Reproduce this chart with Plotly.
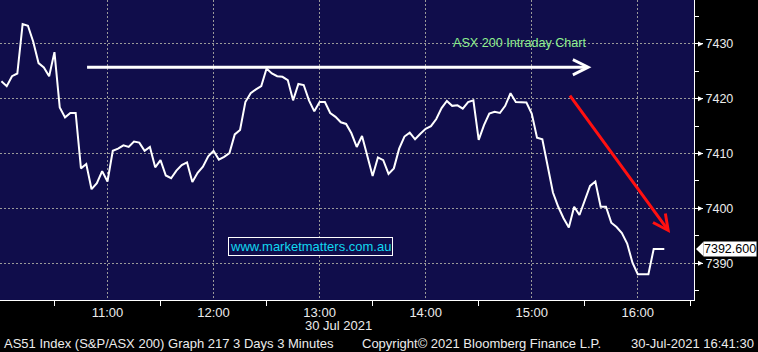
import plotly.graph_objects as go

DATE = "2021-07-30"

times = [
    "10:00", "10:03", "10:06", "10:09", "10:12", "10:15", "10:18", "10:21", "10:24", "10:27",
    "10:30", "10:33", "10:36", "10:39", "10:42", "10:45", "10:48", "10:51", "10:54", "10:57",
    "11:00", "11:03", "11:06", "11:09", "11:12", "11:15", "11:18", "11:21", "11:24", "11:27",
    "11:30", "11:33", "11:36", "11:39", "11:42", "11:45", "11:48", "11:51", "11:54", "11:57",
    "12:00", "12:03", "12:06", "12:09", "12:12", "12:15", "12:18", "12:21", "12:24", "12:27",
    "12:30", "12:33", "12:36", "12:39", "12:42", "12:45", "12:48", "12:51", "12:54", "12:57",
    "13:00", "13:03", "13:06", "13:09", "13:12", "13:15", "13:18", "13:21", "13:24", "13:27",
    "13:30", "13:33", "13:36", "13:39", "13:42", "13:45", "13:48", "13:51", "13:54", "13:57",
    "14:00", "14:03", "14:06", "14:09", "14:12", "14:15", "14:18", "14:21", "14:24", "14:27",
    "14:30", "14:33", "14:36", "14:39", "14:42", "14:45", "14:48", "14:51", "14:54", "14:57",
    "15:00", "15:03", "15:06", "15:09", "15:12", "15:15", "15:18", "15:21", "15:24", "15:27",
    "15:30", "15:33", "15:36", "15:39", "15:42", "15:45", "15:48", "15:51", "15:54", "15:57",
    "16:00", "16:03", "16:06", "16:09", "16:12", "16:15",
]

values = [
    7423.2, 7422.3, 7424.1, 7424.6, 7433.6, 7433.3, 7430.4, 7426.5, 7425.7, 7424.1,
    7428.5, 7418.4, 7416.6, 7417.4, 7417.4, 7407.3, 7408.1, 7403.5, 7404.6, 7406.8,
    7404.9, 7410.5, 7410.9, 7411.5, 7411.2, 7412.2, 7412.0, 7410.5, 7411.2, 7407.5,
    7408.8, 7406.0, 7405.5, 7406.9, 7407.9, 7408.4, 7404.8, 7406.5, 7407.6, 7409.5,
    7410.5, 7408.9, 7409.4, 7410.1, 7413.5, 7414.3, 7419.4, 7421.0, 7421.7, 7422.3,
    7425.5, 7424.6, 7424.1, 7424.0, 7423.4, 7419.7, 7422.7, 7422.5, 7419.7, 7417.7,
    7419.4, 7419.4, 7417.4, 7416.7, 7415.7, 7415.4, 7413.7, 7411.2, 7413.2, 7409.3,
    7405.9, 7409.3, 7408.8, 7406.3, 7407.3, 7410.9, 7413.1, 7413.8, 7412.6, 7413.6,
    7414.5, 7415.0, 7416.3, 7418.3, 7419.6, 7418.7, 7418.8, 7418.2, 7419.4, 7419.7,
    7412.5, 7415.2, 7417.3, 7417.6, 7417.4, 7418.7, 7421.0, 7419.4, 7419.4, 7419.3,
    7417.3, 7412.9, 7412.6, 7407.6, 7402.9, 7400.3, 7398.2, 7396.5, 7400.3, 7398.8,
    7401.5, 7404.1, 7404.9, 7400.3, 7400.3, 7397.4, 7396.6, 7395.5, 7393.6, 7390.1,
    7388.0, 7388.0, 7388.0, 7392.6, 7392.6, 7392.6,
]

ytick_vals = [7390, 7400, 7410, 7420, 7430]
xtick_times = ["11:00", "12:00", "13:00", "14:00", "15:00", "16:00"]
last_price = 7392.6
last_label = "7392.600"

# trend arrows (time, value)
white_arrow_start = ("10:47:36", 7425.75)
white_arrow_end = ("15:33:48", 7425.75)
red_arrow_start = ("15:21:00", 7420.85)
red_arrow_end = ("16:18:18", 7395.5)

x_range = [f"{DATE} 09:59:12", f"{DATE} 16:31:48"]
y_range = [7383.3, 7438.0]

PLOT_BG = "#100d4b"
GRID = "#9a9a9a"
TXT = "#ececec"
FONT = "Liberation Sans, Arial, sans-serif"

x = [f"{DATE} {t}" for t in times]

fig = go.Figure()
fig.add_trace(go.Scatter(
    x=x, y=values, mode="lines",
    line=dict(color="white", width=2),
    hoverinfo="skip", showlegend=False,
))

fig.update_layout(
    width=758, height=352,
    margin=dict(l=0, r=64, t=0, b=52),
    paper_bgcolor="black",
    plot_bgcolor=PLOT_BG,
    font=dict(family=FONT, color=TXT, size=13),
    showlegend=False,
)

fig.update_xaxes(
    type="date",
    range=x_range,
    tickmode="array",
    tickvals=[f"{DATE} {t}" for t in xtick_times],
    ticktext=xtick_times,
    ticks="",
    tickfont=dict(size=13, color=TXT),
    showgrid=True, gridcolor=GRID, gridwidth=1.3, griddash="2px,2px",
    showline=True, linecolor="white", linewidth=1,
    zeroline=False,
    minor=dict(tickmode="linear", tick0=f"{DATE} 10:30", dtick=3600000,
               ticks="outside", ticklen=5, tickcolor="white", tickwidth=1,
               showgrid=False),
    fixedrange=True,
)

fig.update_yaxes(
    side="right",
    range=y_range,
    tickmode="array",
    tickvals=ytick_vals,
    ticktext=[str(v) for v in ytick_vals],
    ticks="outside", ticklen=8, tickcolor="white", tickwidth=1,
    tickfont=dict(size=12.5, color=TXT),
    showgrid=True, gridcolor=GRID, gridwidth=1.3, griddash="2px,2px",
    showline=True, linecolor="white", linewidth=1,
    zeroline=False,
    minor=dict(tickmode="linear", tick0=7385, dtick=10,
               ticks="outside", ticklen=4, tickcolor="white", tickwidth=1,
               showgrid=False),
    fixedrange=True,
)

PLOT_W = 694.0
PLOT_H = 300.0
px_per_unit = PLOT_H / (y_range[1] - y_range[0])

# tick arrowheads on the right axis
shapes = []
for v in ytick_vals:
    x0 = 1 + 4 / PLOT_W
    x1 = 1 + 9 / PLOT_W
    dy = 2.5 / px_per_unit
    shapes.append(dict(
        type="path", xref="paper", yref="y",
        path=f"M {x0},{v - dy} L {x1},{v} L {x0},{v + dy} Z",
        fillcolor="white", line=dict(width=0),
    ))

# pointer of the last price label
dy = 7.3 / px_per_unit
shapes.append(dict(
    type="path", xref="paper", yref="y",
    path=(f"M {1 + 2 / PLOT_W},{last_price} L {1 + 9.5 / PLOT_W},{last_price + dy} "
          f"L {1 + 9.5 / PLOT_W},{last_price - dy} Z"),
    fillcolor="white", line=dict(width=0),
))
fig.update_layout(shapes=shapes)

annotations = [
    # last price label
    dict(xref="paper", yref="y", x=1, y=last_price, xanchor="left", yanchor="middle",
         xshift=9, text=last_label, showarrow=False, bgcolor="white",
         font=dict(color="black", size=12.5, family=FONT), borderpad=0),
    # chart title
    dict(xref="paper", yref="paper", x=520 / PLOT_W, y=(PLOT_H - 43) / PLOT_H,
         xanchor="center", yanchor="middle", text="ASX 200 Intraday Chart",
         showarrow=False, font=dict(color="#8ef08e", size=12.6, family=FONT)),
    # watermark
    dict(xref="x", yref="y", x=f"{DATE} 12:55", y=7393.0, xanchor="center", yanchor="middle",
         text="www.marketmatters.com.au", showarrow=False,
         font=dict(color="#10d8f0", size=13, family=FONT),
         bordercolor="white", borderwidth=1, borderpad=1, bgcolor=PLOT_BG),
    # date under axis
    dict(xref="paper", yref="paper", x=303 / PLOT_W, y=(PLOT_H - 325) / PLOT_H,
         xanchor="left", yanchor="middle", text="30 Jul 2021", showarrow=False,
         font=dict(color=TXT, size=13, family=FONT)),
    # footer
    dict(xref="paper", yref="paper", x=2 / PLOT_W, y=(PLOT_H - 343.5) / PLOT_H,
         xanchor="left", yanchor="middle",
         text="AS51 Index (S&amp;P/ASX 200) Graph 217 3 Days 3 Minutes", showarrow=False,
         font=dict(color=TXT, size=13, family=FONT)),
    dict(xref="paper", yref="paper", x=360 / PLOT_W, y=(PLOT_H - 343.5) / PLOT_H,
         xanchor="left", yanchor="middle",
         text="Copyright\u00a9 2021 Bloomberg Finance L.P.", showarrow=False,
         font=dict(color=TXT, size=13, family=FONT)),
    dict(xref="paper", yref="paper", x=756 / PLOT_W, y=(PLOT_H - 343.5) / PLOT_H,
         xanchor="right", yanchor="middle",
         text="30-Jul-2021 16:41:30", showarrow=False,
         font=dict(color=TXT, size=13, family=FONT)),
    # white horizontal arrow
    dict(xref="x", yref="y", axref="x", ayref="y",
         x=f"{DATE} {white_arrow_end[0]}", y=white_arrow_end[1],
         ax=f"{DATE} {white_arrow_start[0]}", ay=white_arrow_start[1],
         text="", showarrow=True, arrowhead=5, arrowsize=1, arrowwidth=3,
         arrowcolor="white", standoff=0, startstandoff=0),
    # red down arrow
    dict(xref="x", yref="y", axref="x", ayref="y",
         x=f"{DATE} {red_arrow_end[0]}", y=red_arrow_end[1],
         ax=f"{DATE} {red_arrow_start[0]}", ay=red_arrow_start[1],
         text="", showarrow=True, arrowhead=5, arrowsize=1, arrowwidth=3,
         arrowcolor="#ff1010", standoff=0, startstandoff=0),
]
fig.update_layout(annotations=annotations)

fig.write_html("out.html", config={"displayModeBar": False})
